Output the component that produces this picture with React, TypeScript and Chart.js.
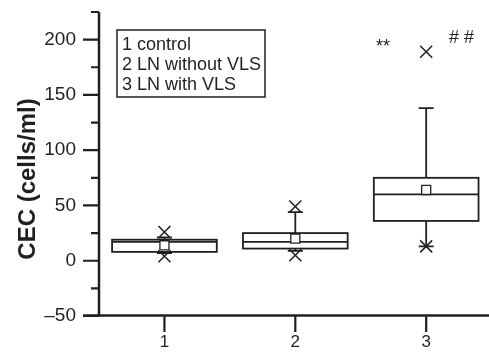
import React, { useEffect, useRef } from "react";
import { Chart, registerables } from "chart.js";

Chart.register(...registerables);

// ---- data ----
const categories = [1, 2, 3];
const legendLabels = ["1 control", "2 LN without VLS", "3 LN with VLS"];
const q1 = [8, 11, 36];
const median = [17, 17, 60];
const q3 = [19, 25, 75];
const mean = [14, 20, 64];
const whiskerLow = [7, 9, 13];
const whiskerHigh = [21, 44, 138];
const minMark = [4, 5, 13];
const maxMark = [26, 49, 189];
const yMajorTicks = [-50, 0, 50, 100, 150, 200];
const yMinorTicks = [-25, 25, 75, 125, 175, 225];
const xTicks = [1, 2, 3];
const annotationTexts = ["**", "# #"];
const annotationX = [2.67, 3.27];
const annotationY = [189, 197];

const INK = "#231f20";
const BOX_WIDTH = 0.8;
const FONT = "'Liberation Sans', Arial, Helvetica, sans-serif";

const fmt = (v: number) => (v < 0 ? "\u2013" + Math.abs(v) : String(v));

const zeroPad = (s: any) => {
  s.paddingTop = 0;
  s.paddingBottom = 0;
  s.paddingLeft = 0;
  s.paddingRight = 0;
};

const drawPlugin = {
  id: "boxDraw",
  beforeDatasetsDraw(chart: any) {
    const { ctx, scales } = chart;
    const x = scales.x, y = scales.y;
    ctx.save();
    ctx.strokeStyle = INK;
    ctx.lineWidth = 1.8;
    categories.forEach((c, i) => {
      const xc = x.getPixelForValue(c);
      const xl = x.getPixelForValue(c - BOX_WIDTH / 2);
      const xr = x.getPixelForValue(c + BOX_WIDTH / 2);
      const y1 = y.getPixelForValue(q1[i]);
      const y3 = y.getPixelForValue(q3[i]);
      const ym = y.getPixelForValue(median[i]);
      const wl = y.getPixelForValue(whiskerLow[i]);
      const wh = y.getPixelForValue(whiskerHigh[i]);
      ctx.beginPath();
      ctx.moveTo(xc, y3); ctx.lineTo(xc, wh);
      ctx.moveTo(xc - 7.5, wh); ctx.lineTo(xc + 7.5, wh);
      ctx.moveTo(xc, y1); ctx.lineTo(xc, wl);
      ctx.moveTo(xc - 7.5, wl); ctx.lineTo(xc + 7.5, wl);
      ctx.stroke();
      ctx.fillStyle = "#fff";
      ctx.fillRect(xl, y3, xr - xl, y1 - y3);
      ctx.strokeRect(xl, y3, xr - xl, y1 - y3);
      ctx.beginPath();
      ctx.moveTo(xl, ym); ctx.lineTo(xr, ym);
      ctx.stroke();
    });
    ctx.restore();
  },
  afterDraw(chart: any) {
    const { ctx, scales, chartArea } = chart;
    const x = scales.x, y = scales.y;
    const L = chartArea.left, B = chartArea.bottom;
    ctx.save();
    ctx.strokeStyle = INK;
    ctx.fillStyle = INK;
    // axis lines
    ctx.lineWidth = 2.5;
    ctx.beginPath();
    ctx.moveTo(L, chartArea.top); ctx.lineTo(L, B);
    ctx.moveTo(L - 16, B - 0.5); ctx.lineTo(chartArea.right, B - 0.5);
    ctx.stroke();
    // y ticks
    ctx.lineWidth = 2.2;
    ctx.beginPath();
    yMajorTicks.forEach((v) => {
      const p = y.getPixelForValue(v);
      ctx.moveTo(L - 16, p); ctx.lineTo(L, p);
    });
    yMinorTicks.forEach((v) => {
      const p = y.getPixelForValue(v);
      ctx.moveTo(L - 8, p); ctx.lineTo(L, p);
    });
    // x ticks
    xTicks.forEach((v) => {
      const p = x.getPixelForValue(v);
      ctx.moveTo(p, B); ctx.lineTo(p, B + 16);
    });
    ctx.stroke();
    // y title
    ctx.save();
    ctx.translate(28, 179);
    ctx.rotate(-Math.PI / 2);
    ctx.font = `bold 24px ${FONT}`;
    ctx.textAlign = "center";
    ctx.textBaseline = "middle";
    ctx.fillText("CEC (cells/ml)", 0, 0);
    ctx.restore();
    // legend box
    const lx = L + 18, ly = chartArea.top + 18;
    ctx.lineWidth = 1.5;
    ctx.strokeRect(lx, ly, 148, 67);
    ctx.font = `18px ${FONT}`;
    ctx.textAlign = "left";
    ctx.textBaseline = "middle";
    legendLabels.forEach((t, i) => {
      ctx.fillText(t, lx + 5, ly + 15 + i * 20);
    });
    // annotations
    ctx.textAlign = "center";
    ctx.textBaseline = "alphabetic";
    annotationTexts.forEach((t, i) => {
      ctx.font = `18px ${FONT}`;
      ctx.fillText(t, x.getPixelForValue(annotationX[i]), y.getPixelForValue(annotationY[i]));
    });
    ctx.restore();
  },
};

export default function App() {
  const ref = useRef<HTMLCanvasElement>(null);
  useEffect(() => {
    if (!ref.current) return;
    const pts = (arr: number[]) => categories.map((c, i) => ({ x: c, y: arr[i] }));
    const chart = new Chart(ref.current, {
      type: "scatter",
      data: {
        datasets: [
          {
            data: pts(mean),
            pointStyle: "rect",
            radius: 6.4,
            backgroundColor: "#fff",
            borderColor: INK,
            borderWidth: 1.3,
          },
          {
            data: pts(minMark),
            pointStyle: "crossRot",
            radius: 8.5,
            borderColor: INK,
            borderWidth: 1.5,
          },
          {
            data: pts(maxMark),
            pointStyle: "crossRot",
            radius: 8.5,
            borderColor: INK,
            borderWidth: 1.5,
          },
        ],
      },
      options: {
        responsive: false,
        animation: false,
        devicePixelRatio: 1,
        layout: { autoPadding: false, padding: { top: 12, left: 0, right: 0, bottom: 0 } },
        plugins: { legend: { display: false }, tooltip: { enabled: false } },
        scales: {
          x: {
            type: "linear",
            min: 0.5,
            max: 3.48,
            afterFit: (s: any) => { s.height = 44; zeroPad(s); },
            afterBuildTicks: (s: any) => { s.ticks = xTicks.map((v) => ({ value: v })); },
            grid: { display: false, drawTicks: false },
            border: { display: false },
            ticks: {
              padding: 16,
              color: INK,
              font: { family: FONT, size: 17 },
              callback: (v: any) => String(v),
            },
          },
          y: {
            type: "linear",
            min: -50,
            max: 225,
            afterFit: (s: any) => { s.width = 99; zeroPad(s); },
            afterBuildTicks: (s: any) => { s.ticks = yMajorTicks.map((v) => ({ value: v })); },
            grid: { display: false, drawTicks: false },
            border: { display: false },
            ticks: {
              padding: 23,
              autoSkip: false,
              color: INK,
              font: { family: FONT, size: 19 },
              callback: (v: any) => fmt(Number(v)),
            },
          },
        },
      },
      plugins: [drawPlugin],
    });
    return () => chart.destroy();
  }, []);
  return (
    <div style={{ position: "fixed", left: 0, top: 0, width: 489, height: 360, background: "#fff" }}>
      <canvas ref={ref} width={489} height={360} />
    </div>
  );
}
